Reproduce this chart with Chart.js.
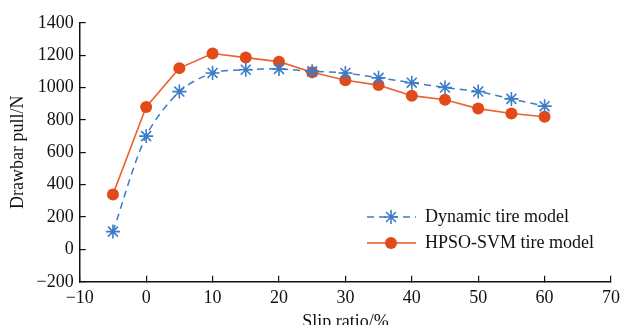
<!DOCTYPE html>
<html>
<head>
<meta charset="utf-8">
<script src="https://cdn.jsdelivr.net/npm/chart.js@4/dist/chart.umd.min.js"></script>
<style>
  html, body { margin: 0; padding: 0; background: #fff; overflow: hidden; }
  #wrap { width: 632px; height: 325px; }
</style>
</head>
<body>
<div id="wrap"><canvas id="myChart"></canvas></div>
<script>
// slip ratio (%) on the x axis
const slip = [-5, 0, 5, 10, 15, 20, 25, 30, 35, 40, 45, 50, 55, 60];
// drawbar pull (N)
const dynamicModel = [110, 700, 975, 1090, 1110, 1115, 1100, 1090, 1060, 1030, 1000, 975, 930, 885];
const hpsoModel = [340, 880, 1120, 1210, 1185, 1160, 1095, 1045, 1015, 950, 925, 870, 840, 820];
const seriesNames = ["Dynamic tire model", "HPSO-SVM tire model"];

const blue = "#3b7cc8";
const orange = "#e8561f";
const serif = "'Liberation Serif', 'DejaVu Serif', serif";

const toPoints = (vals) => slip.map((s, i) => ({ x: s, y: vals[i] }));

// legend drawn inside the plot, like the original figure
const innerLegend = {
  id: "innerLegend",
  afterDatasetsDraw(chart) {
    const ctx = chart.ctx;
    const rows = [
      { y: 217, color: blue, dash: [7, 5], ds: 0 },
      { y: 243, color: orange, dash: [], ds: 1 },
    ];
    ctx.save();
    rows.forEach((r, i) => {
      const ds = chart.data.datasets[r.ds];
      ctx.strokeStyle = r.color;
      ctx.lineWidth = 1.5;
      ctx.setLineDash(r.dash);
      ctx.beginPath();
      ctx.moveTo(367, r.y);
      ctx.lineTo(416, r.y);
      ctx.stroke();
      ctx.setLineDash([]);
      if (ds.pointStyle === "circle") {
        ctx.fillStyle = ds.pointBackgroundColor;
        ctx.beginPath();
        ctx.arc(391, r.y, ds.pointRadius, 0, Math.PI * 2);
        ctx.fill();
      } else {
        ctx.strokeStyle = ds.pointBorderColor;
        ctx.lineWidth = ds.pointBorderWidth;
        Chart.helpers.drawPoint(ctx, {
          pointStyle: ds.pointStyle,
          radius: ds.pointRadius,
          borderWidth: ds.pointBorderWidth,
        }, 391, r.y);
      }
      ctx.fillStyle = "#111";
      ctx.font = "18px " + serif;
      ctx.textBaseline = "middle";
      ctx.fillText(seriesNames[i], 425, r.y);
    });
    ctx.restore();
  },
};

const ctx = document.getElementById("myChart");
const myChart = new Chart(ctx, {
  type: "line",
  data: {
    datasets: [
      {
        label: seriesNames[0],
        data: toPoints(dynamicModel),
        borderColor: blue,
        borderWidth: 1.5,
        borderDash: [7, 5],
        pointStyle: "star",
        pointRadius: 7,
        pointBorderWidth: 1.6,
        pointBorderColor: blue,
        pointBackgroundColor: blue,
        tension: 0.3,
      },
      {
        label: seriesNames[1],
        data: toPoints(hpsoModel),
        borderColor: "#eb6330",
        borderWidth: 1.6,
        pointStyle: "circle",
        pointRadius: 6,
        pointBorderWidth: 0,
        pointBackgroundColor: "#e34a1a",
        pointBorderColor: "#e34a1a",
        tension: 0,
      },
    ],
  },
  options: {
    responsive: true,
    maintainAspectRatio: false,
    animation: false,
    layout: { padding: { top: 18, right: 0, left: 7, bottom: -8 } },
    plugins: {
      legend: { display: false },
      tooltip: { enabled: false },
    },
    scales: {
      x: {
        type: "linear",
        min: -10,
        max: 70,
        ticks: {
          stepSize: 10,
          color: "#111",
          font: { family: serif, size: 18 },
          padding: 12,
          maxRotation: 0,
          callback: (v) => String(v).replace("-", "\u2212"),
        },
        grid: { drawOnChartArea: false, tickLength: -6, color: "#111", lineWidth: 1.2 },
        border: { color: "#111", width: 1.5 },
        title: {
          display: true,
          text: "Slip ratio/%",
          color: "#111",
          font: { family: serif, size: 18 },
          padding: { top: -10, bottom: 0 },
        },
      },
      y: {
        min: -200,
        max: 1400,
        ticks: {
          stepSize: 200,
          color: "#111",
          font: { family: serif, size: 18 },
          padding: 12,
          callback: (v) => String(v).replace("-", "\u2212"),
        },
        grid: { drawOnChartArea: false, tickLength: -6, color: "#111", lineWidth: 1.2 },
        border: { color: "#111", width: 1.5 },
        title: {
          display: true,
          text: "Drawbar pull/N",
          color: "#111",
          font: { family: serif, size: 18 },
          padding: { top: 0, bottom: -4 },
        },
      },
    },
  },
  plugins: [innerLegend],
});
</script>
</body>
</html>
